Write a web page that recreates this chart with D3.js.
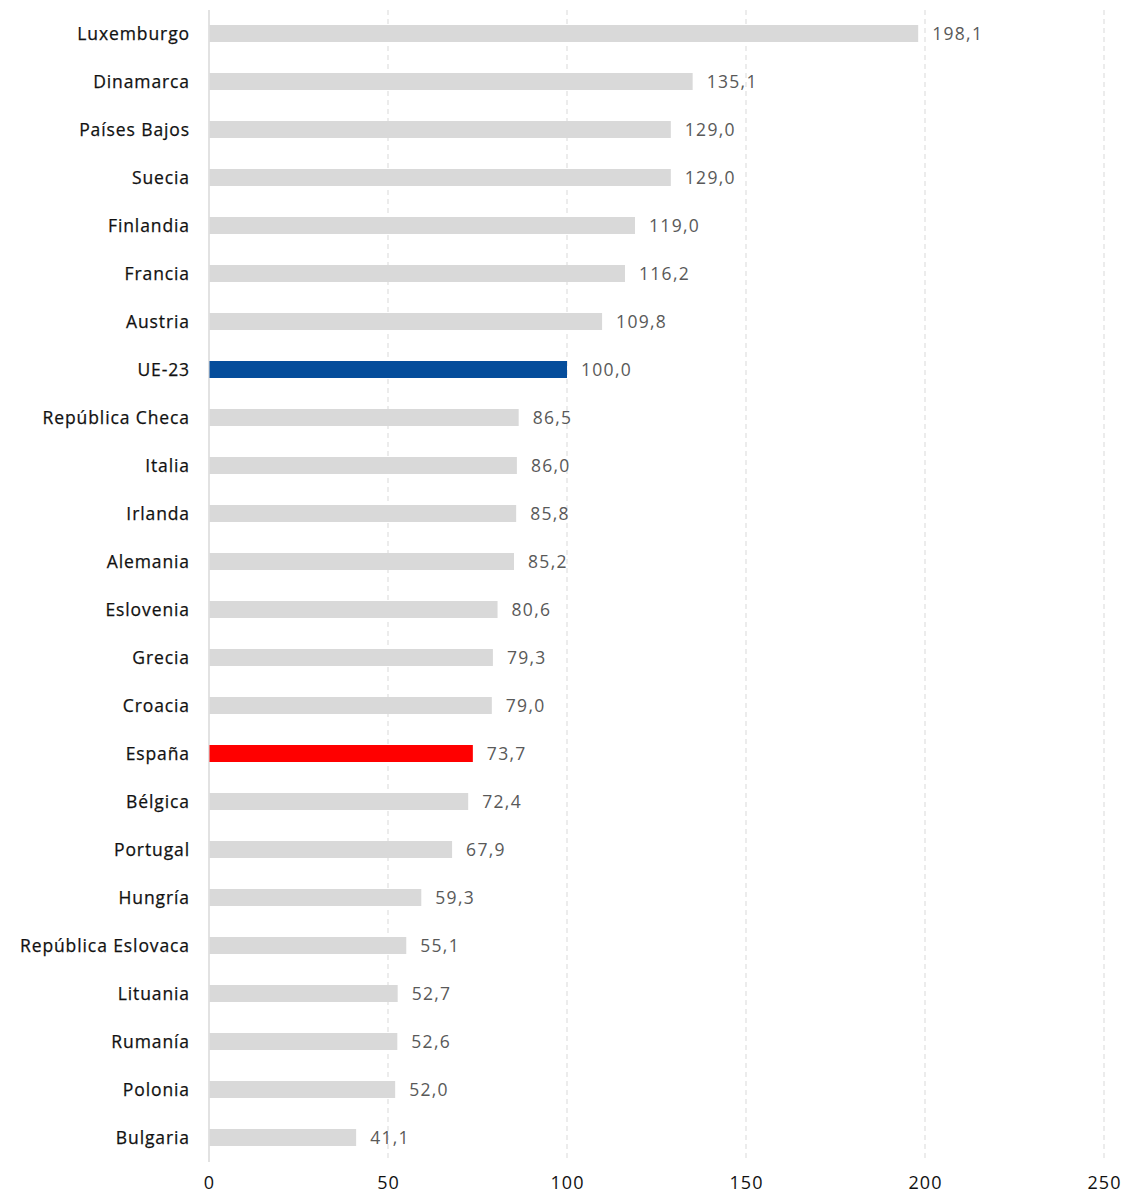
<!DOCTYPE html>
<html><head><meta charset="utf-8">
<script src="https://cdn.jsdelivr.net/npm/d3@7"></script>
<style>body{margin:0;background:#fff}svg{display:block}text{font-family:"Open Sans",sans-serif}</style>
</head><body><svg id="c" width="1130" height="1194"></svg>
<script>
const countries = ["Luxemburgo","Dinamarca","Países Bajos","Suecia","Finlandia","Francia","Austria","UE-23","República Checa","Italia","Irlanda","Alemania","Eslovenia","Grecia","Croacia","España","Bélgica","Portugal","Hungría","República Eslovaca","Lituania","Rumanía","Polonia","Bulgaria"];
const values = [198.1,135.1,129.0,129.0,119.0,116.2,109.8,100.0,86.5,86.0,85.8,85.2,80.6,79.3,79.0,73.7,72.4,67.9,59.3,55.1,52.7,52.6,52.0,41.1];
const xTicks = [0,50,100,150,200,250];
const highlight = {"UE-23":"#054d9b","España":"#ff0000"};

const svg = d3.select("#c");
const x = d3.scaleLinear().domain([0,250]).range([209,1104]);
const y = d3.scaleBand().domain(countries).range([9.5,1161.5]).paddingInner(0.646).paddingOuter(0.323);

svg.append("g").selectAll("line").data(xTicks.slice(1)).join("line")
  .attr("x1",d=>x(d)).attr("x2",d=>x(d)).attr("y1",10).attr("y2",1162)
  .attr("stroke","#d9d9d9").attr("stroke-width",1).attr("stroke-dasharray","5,4");
svg.append("line").attr("x1",x(0)).attr("x2",x(0)).attr("y1",10).attr("y2",1162)
  .attr("stroke","#d9d9d9").attr("stroke-width",1.5);

svg.append("g").selectAll("rect").data(countries).join("rect")
  .attr("x",x(0)+0.5).attr("y",d=>y(d)).attr("height",y.bandwidth())
  .attr("width",(d,i)=>x(values[i])-x(0)-0.5)
  .attr("fill",d=>highlight[d]||"#d9d9d9");

svg.append("g").selectAll("text").data(countries).join("text")
  .attr("x",190).attr("y",d=>y(d)+y.bandwidth()/2).attr("dy","0.35em")
  .attr("text-anchor","end").attr("font-size",17.5).attr("letter-spacing","0.9px")
  .attr("fill","#111").attr("stroke","#111").attr("stroke-width",0.25)
  .text(d=>d);

svg.append("g").selectAll("text").data(countries).join("text")
  .attr("x",(d,i)=>x(values[i])+14).attr("y",d=>y(d)+y.bandwidth()/2).attr("dy","0.35em")
  .attr("font-size",17.5).attr("letter-spacing","1.3px").attr("fill","#595959")
  .text((d,i)=>values[i].toFixed(1).replace(".",","));

const ax = svg.append("g").attr("transform","translate(0,1168)")
  .call(d3.axisBottom(x).tickValues(xTicks).tickSize(0).tickPadding(8));
ax.select(".domain").remove();
ax.selectAll("text").attr("font-size",18).attr("letter-spacing","1px").attr("fill","#111")
  .attr("font-family","'Open Sans',sans-serif");
</script></body></html>
